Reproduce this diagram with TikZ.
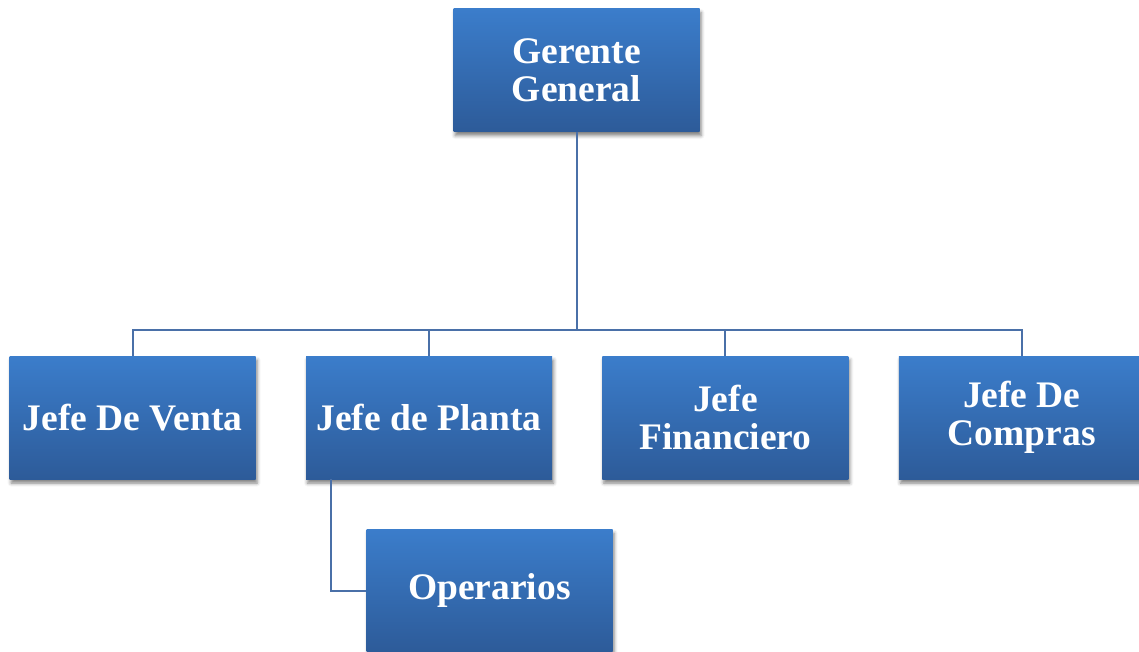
\documentclass[tikz,border=0pt]{standalone}
\usepackage{fontspec}
\setmainfont{Liberation Serif}
\usetikzlibrary{positioning,shadows.blur}

\definecolor{boxtop}{HTML}{3B7DCB}
\definecolor{boxbot}{HTML}{2D5B99}
\definecolor{linkcol}{HTML}{4A70A8}

\begin{document}
\begin{tikzpicture}[x=1pt,y=-1pt,
    puesto/.style={rectangle,minimum width=246pt,minimum height=123pt,
      inner sep=0pt,top color=boxtop,bottom color=boxbot,draw=none,
      text=white,align=center,font=\bfseries\fontsize{37.5}{38}\selectfont,
      blur shadow={shadow xshift=1.5pt,shadow yshift=-4pt,
        shadow blur radius=3.5pt,shadow opacity=50}},
    link/.style={draw=linkcol,line width=2pt}]
  \useasboundingbox (0,0) rectangle (1139,651);

  \node[puesto] (gerente) at (576.5,70) {Gerente\\General};

  \node[puesto] (planta) at (429,417.5) {Jefe de Planta};
  \node[puesto,left=50pt of planta] (venta) {Jefe De Venta};
  \node[puesto,right=50pt of planta] (financiero) {Jefe\\Financiero};
  \node[puesto,right=50pt of financiero] (compras) {Jefe De\\Compras};

  \node[puesto] (operarios) at (489.5,590.5) {Operarios};

  \foreach \jefe in {venta,planta,financiero,compras}
    \draw[link] (gerente.south) -- ++(0,198) -| (\jefe.north);
  \draw[link] ([xshift=-98pt]planta.south) |- (operarios.west);
\end{tikzpicture}
\end{document}
